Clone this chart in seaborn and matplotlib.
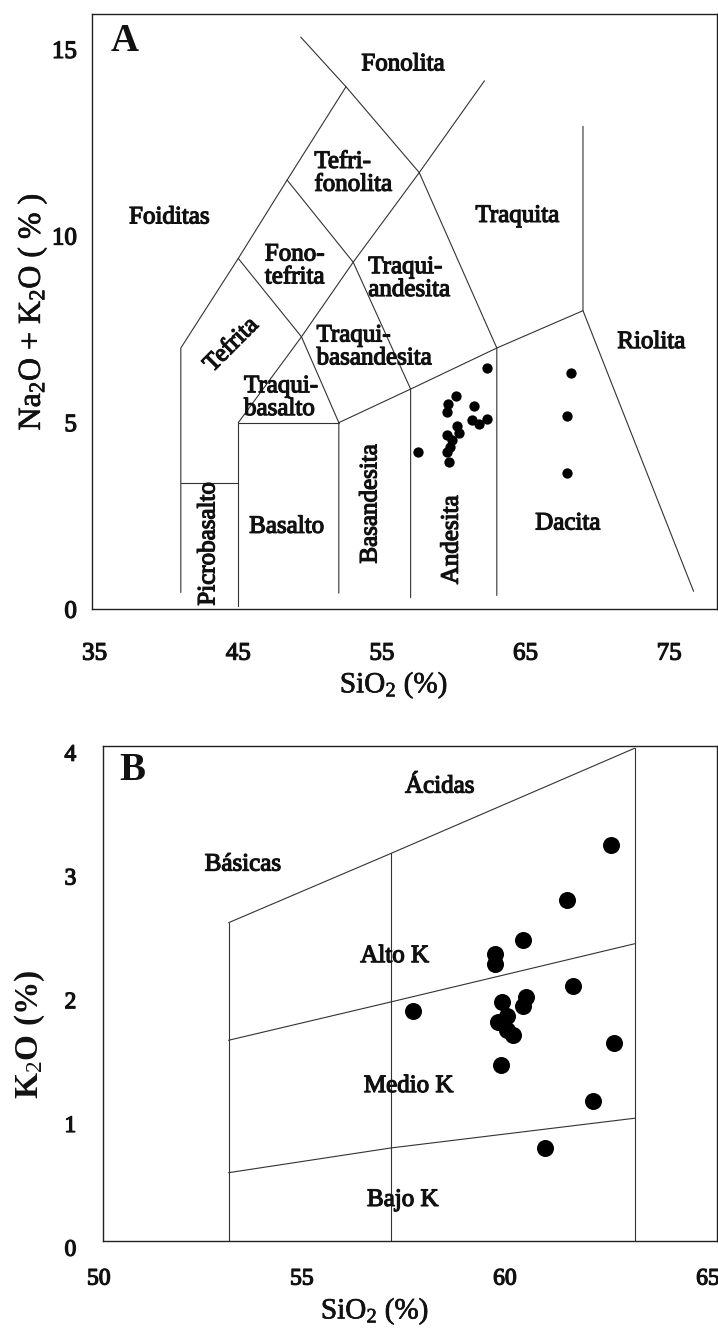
import numpy as np
import pandas as pd
import matplotlib
matplotlib.use("Agg")
import matplotlib.pyplot as plt
import matplotlib.patheffects as pe
from matplotlib.transforms import ScaledTranslation
import seaborn as sns

# ---------------- data ----------------
# Panel A: TAS (SiO2 vs Na2O+K2O)
tas_sio2 = [62.34, 68.15, 60.16, 59.62, 59.51, 61.41, 61.25, 61.78, 62.34, 67.87,
            60.21, 60.39, 59.55, 59.86, 59.74, 59.55, 57.49, 59.65, 67.91]
tas_alk = [6.47, 6.34, 5.71, 5.50, 5.29, 5.45, 5.07, 4.96, 5.09, 5.19,
           4.91, 4.73, 4.67, 4.54, 4.36, 4.22, 4.22, 3.95, 3.66]

# TAS field boundaries (each a polyline of SiO2 / alkali values)
tas_lines = {
    "l1": ([41, 41, 45, 48.4, 52.5, 49.35], [0.45, 7, 9.4, 11.5, 14, 15.33]),
    "l2": ([52.5, 57.6, 63, 63], [14, 11.7, 7, 0.37]),
    "l3": ([45, 49.4, 53, 57.6, 62.14], [5, 7.3, 9.3, 11.7, 14.16]),
    "l4": ([45, 49.4], [9.4, 7.3]),
    "l5": ([48.4, 53, 57, 57], [11.5, 9.3, 5.9, 0.31]),
    "l6": ([49.4, 52, 52], [7.3, 5, 0.43]),
    "l7": ([45, 45, 52], [0.1, 5, 5]),
    "l8": ([52, 57, 63, 69, 69], [5, 5.9, 7, 8, 12.94]),
    "l9": ([69, 76.7], [8, 0.48]),
    "l10": ([41, 45], [3.38, 3.38]),
}

tas_labels = ["Fonolita", "Tefri-\nfonolita", "Foiditas", "Traquita", "Fono-\ntefrita",
              "Traqui-\nandesita", "Tefrita", "Traqui-\nbasandesita", "Traqui-\nbasalto",
              "Riolita", "Basalto", "Dacita", "Picrobasalto", "Basandesita", "Andesita"]
tas_label_x = [56.47, 50.3, 40.2, 64.43, 46.85, 54.05, 44.54, 50.45, 45.4,
               73.76, 48.36, 67.94, 42.92, 54.2, 59.86]
tas_label_y = [14.6, 11.68, 10.5, 10.54, 9.2, 8.86, 7.08, 7.03, 5.67,
               7.16, 2.21, 2.3, 1.75, 2.82, 1.86]
tas_label_rot = [0, 0, 0, 0, 0, 0, 45, 0, 0, 0, 0, 0, 90, 90, 90]
tas_label_ha = ["center", "left", "center", "center", "left", "left", "center", "left",
                "left", "center", "center", "center", "center", "center", "center"]

# Panel B: K2O vs SiO2
k_sio2 = [62.42, 61.33, 60.26, 59.56, 59.56, 61.47, 57.55, 59.73, 60.33, 60.26,
          59.86, 59.64, 59.85, 60.01, 62.48, 59.70, 61.98, 60.79]
k_k2o = [3.20, 2.75, 2.43, 2.32, 2.24, 2.06, 1.855, 1.93, 1.97, 1.90,
         1.82, 1.77, 1.70, 1.66, 1.60, 1.42, 1.13, 0.75]

k_lines = {
    "upper": ([53, 57, 63], [2.57, 3.13, 3.98]),
    "high_med": ([53, 57, 63], [1.62, 1.93, 2.40]),
    "med_low": ([53, 57, 63], [0.55, 0.75, 0.99]),
    "v53": ([53, 53], [0, 2.57]),
    "v57": ([57, 57], [0, 3.13]),
    "v63": ([63, 63], [0, 3.98]),
}
k_labels = ["Ácidas", "Básicas", "Alto K", "Medio K", "Bajo K"]
k_label_x = [58.2, 53.35, 57.09, 57.44, 57.29]
k_label_y = [3.67, 3.04, 2.30, 1.25, 0.33]

# ---------------- style ----------------
sns.set_theme(style="white")
plt.rcParams["font.family"] = ["Liberation Serif", "DejaVu Serif"]
plt.rcParams["mathtext.fontset"] = "custom"
plt.rcParams["mathtext.rm"] = "Liberation Serif"
plt.rcParams["mathtext.it"] = "Liberation Serif:italic"
plt.rcParams["mathtext.bf"] = "Liberation Serif:bold"

ink = "#111111"
thick = [pe.withStroke(linewidth=0.9, foreground=ink)]

fig = plt.figure(figsize=(7.18, 13.3), dpi=100)
axA = fig.add_axes([0.1284, 0.5419, 0.8702, 0.4476])
axB = fig.add_axes([0.1430, 0.0671, 0.8552, 0.3722])

# ---------------- Panel A ----------------
for key, (xs, ys) in tas_lines.items():
    axA.plot(xs, ys, color="#333333", lw=0.8)

dfA = pd.DataFrame({"SiO2": tas_sio2, "Alk": tas_alk})
sns.scatterplot(data=dfA, x="SiO2", y="Alk", ax=axA, color="black", s=55,
                edgecolor="black", linewidth=0, zorder=5)

for lab, x, y, r, ha in zip(tas_labels, tas_label_x, tas_label_y, tas_label_rot, tas_label_ha):
    axA.text(x, y, lab, rotation=r, ha=ha, va="center", fontsize=18, color=ink,
             linespacing=1.05, path_effects=thick,
             rotation_mode="anchor" if r == 45 else "default")

axA.text(37.07, 15.22, "A", fontsize=28, fontweight="bold", ha="center", va="center", color=ink)

axA.set_xlim(34.83, 78.33)
axA.set_ylim(0, 15.95)
axA.set_xticks([35, 45, 55, 65, 75])
axA.set_yticks([0, 5, 10, 15])
axA.tick_params(axis="x", direction="in", length=5, width=0.8, pad=24, labelsize=18,
                colors=ink)
axA.tick_params(axis="y", direction="in", length=5, width=0.8, pad=11, labelsize=18,
                colors=ink)
for t in axA.get_xticklabels() + axA.get_yticklabels():
    t.set_path_effects(thick)
axA.set_xlabel("SiO$_2$ (%)", fontsize=21, color=ink)
axA.set_ylabel("Na$_2$O + K$_2$O ( % )", fontsize=23, color=ink)
axA.xaxis.set_label_coords(0.483, -0.128)
axA.xaxis.label.set_va("center")
axA.yaxis.set_label_coords(-0.0963, 0.50)
axA.yaxis.label.set_va("center")
axA.xaxis.label.set_path_effects([pe.withStroke(linewidth=0.5, foreground=ink)])
axA.yaxis.label.set_path_effects([pe.withStroke(linewidth=0.5, foreground=ink)])
for sp in axA.spines.values():
    sp.set_color("#222222")
    sp.set_linewidth(1.0)
axA.grid(False)

# ---------------- Panel B ----------------
for key, (xs, ys) in k_lines.items():
    axB.plot(xs, ys, color="#333333", lw=0.8)

dfB = pd.DataFrame({"SiO2": k_sio2, "K2O": k_k2o})
sns.scatterplot(data=dfB, x="SiO2", y="K2O", ax=axB, color="black", s=150,
                edgecolor="black", linewidth=0, zorder=5)

for lab, x, y in zip(k_labels, k_label_x, k_label_y):
    axB.text(x, y, lab, ha="center", va="center", fontsize=18, color=ink, path_effects=thick)

axB.text(50.64, 3.80, "B", fontsize=28, fontweight="bold", ha="center", va="center", color=ink)

axB.set_xlim(49.9, 65.02)
axB.set_ylim(0, 4)
axB.set_xticks([50, 55, 60, 65])
axB.set_yticks([0, 1, 2, 3, 4])
axB.tick_params(axis="x", direction="in", length=6, width=0.8, pad=20, labelsize=17,
                colors=ink)
axB.tick_params(axis="y", direction="in", length=5, width=0.8, pad=19, labelsize=17,
                colors=ink)
for t in axB.get_xticklabels():
    t.set_path_effects(thick)
    t.set_transform(t.get_transform() + ScaledTranslation(-0.08, 0, fig.dpi_scale_trans))
for t in axB.get_yticklabels():
    t.set_path_effects(thick)
    t.set_transform(t.get_transform() + ScaledTranslation(0, -0.07, fig.dpi_scale_trans))
axB.set_xlabel("SiO$_2$ (%)", fontsize=21, color=ink)
axB.set_ylabel("K$_2$O (%)", fontsize=24, fontweight="bold", color=ink)
axB.xaxis.set_label_coords(0.4435, -0.143)
axB.xaxis.label.set_va("center")
axB.yaxis.set_label_coords(-0.1187, 0.4176)
axB.yaxis.label.set_va("center")
axB.xaxis.label.set_path_effects([pe.withStroke(linewidth=0.5, foreground=ink)])
for sp in axB.spines.values():
    sp.set_color("#222222")
    sp.set_linewidth(1.0)
axB.grid(False)

fig.savefig("out.png", dpi=100, facecolor="white")
